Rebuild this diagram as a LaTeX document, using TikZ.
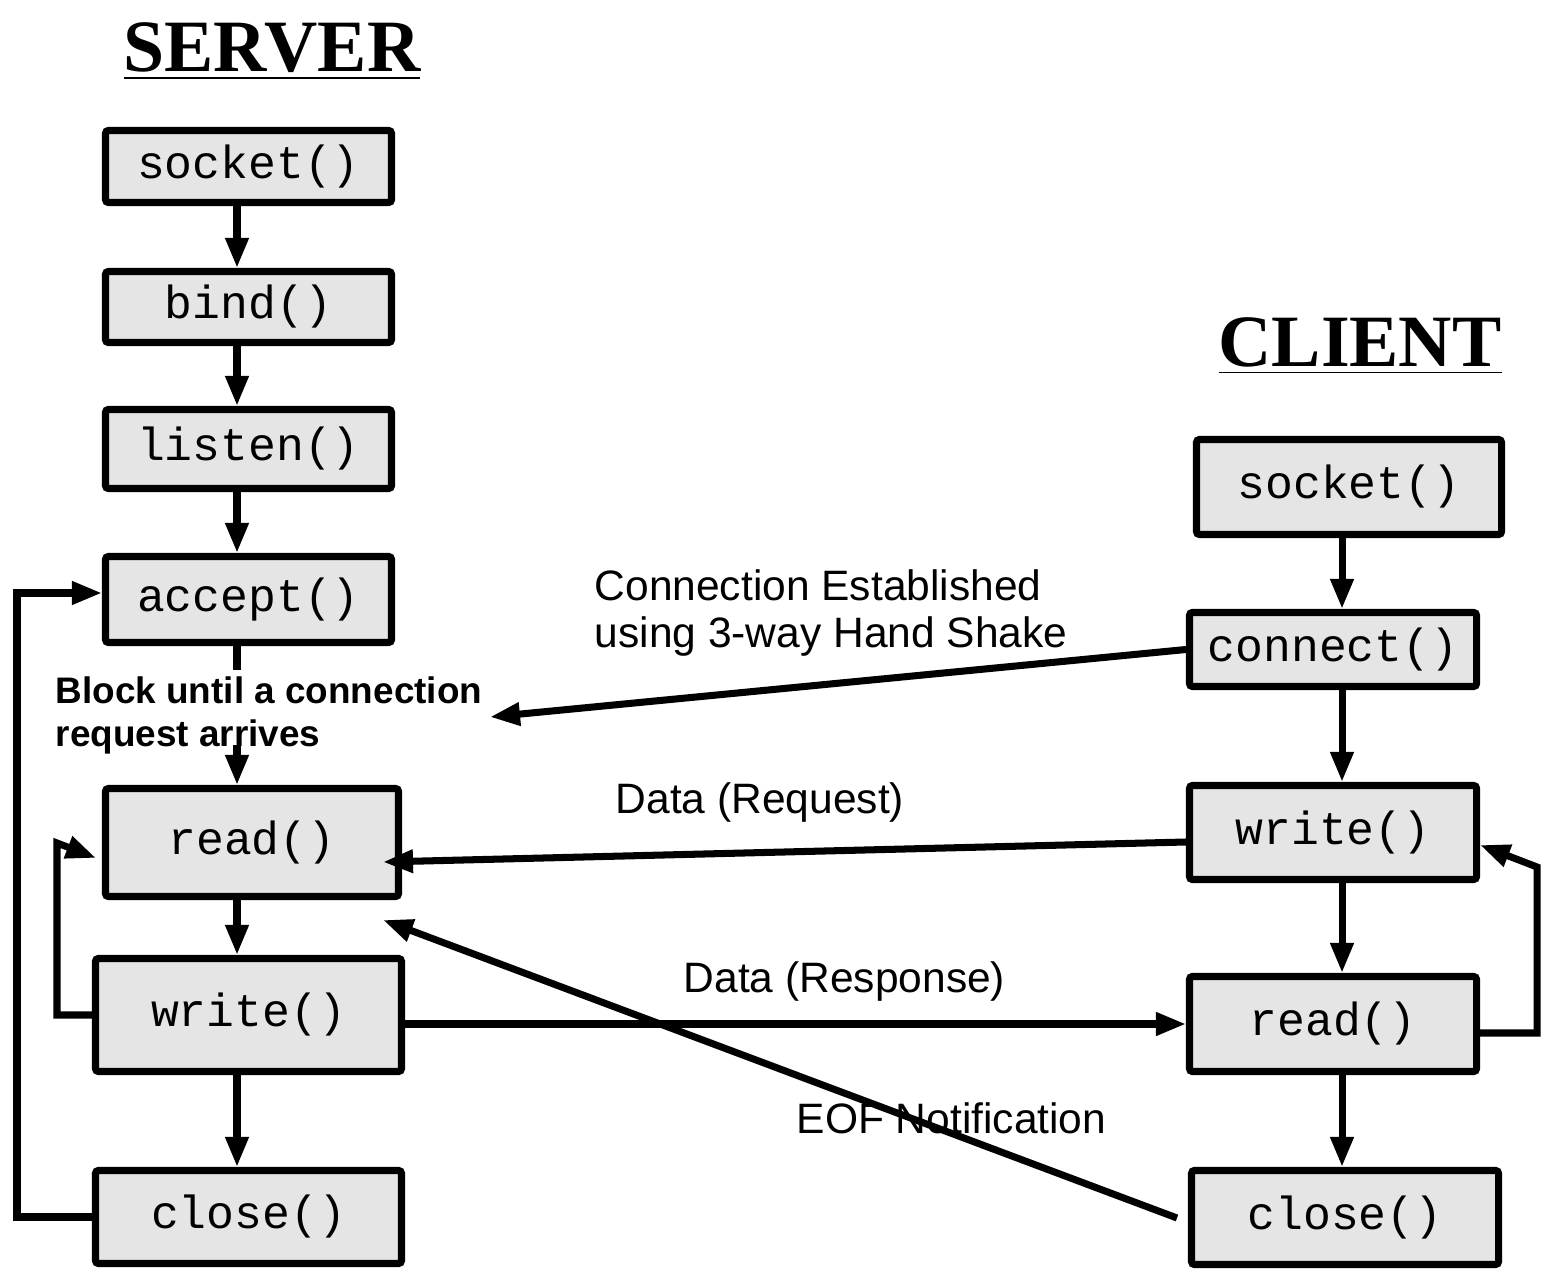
\documentclass[tikz,border=0pt]{standalone}
\usepackage{fontspec}
\setmainfont{Liberation Sans}
\setmonofont{Liberation Mono}
\newfontfamily\headfont{Liberation Serif}
\usetikzlibrary{arrows.meta}
\definecolor{boxgray}{HTML}{E5E5E5}
\tikzset{%
    fn/.style={draw=black,line width=2pt,fill=boxgray,rounded corners=0.8pt,inner sep=0pt,font=\ttfamily\fontsize{13.2}{15}\selectfont},
    arr/.style={-{Triangle[length=0.30cm,width=0.22cm]},line width=2pt}
}
\begin{document}
\begin{tikzpicture}[head/.style={anchor=base,inner sep=0pt,font=\headfont\bfseries\fontsize{21}{24}\selectfont},
    lbl/.style={anchor=west,inner sep=0pt,align=left,font=\fontsize{12.1}{13.1}\selectfont},
    blbl/.style={anchor=west,inner sep=0pt,align=left,font=\bfseries\fontsize{10.5}{12.2}\selectfont}]
        \useasboundingbox (0,0) rectangle (15.47,-12.71);
        \node[head] (tserv) at (2.72,-0.72){\underline{SERVER}};
        \node[head] (tclient) at (13.60,-3.67){\underline{CLIENT}};

        \node[fn,minimum width=2.86cm,minimum height=0.72cm] (ssock) at (2.485,-1.665){socket()};
        \node[fn,minimum width=2.86cm,minimum height=0.71cm] (sbind) at (2.485,-3.07){bind()};
        \node[fn,minimum width=2.86cm,minimum height=0.79cm] (slisten) at (2.485,-4.49){listen()};
        \node[fn,minimum width=2.86cm,minimum height=0.86cm] (saccept) at (2.485,-5.995){accept()};
        \node[fn,minimum width=2.93cm,minimum height=1.08cm] (sread) at (2.52,-8.425){read()};
        \node[fn,minimum width=3.06cm,minimum height=1.13cm] (swrite) at (2.485,-10.15){write()};
        \node[fn,minimum width=3.06cm,minimum height=0.93cm] (sclose) at (2.485,-12.17){close()};

        \node[fn,minimum width=3.05cm,minimum height=0.95cm] (csock) at (13.49,-4.87){socket()};
        \node[fn,minimum width=2.87cm,minimum height=0.74cm] (cconn) at (13.33,-6.495){connect()};
        \node[fn,minimum width=2.87cm,minimum height=0.94cm] (cwrite) at (13.33,-8.325){write()};
        \node[fn,minimum width=2.87cm,minimum height=0.95cm] (cread) at (13.33,-10.24){read()};
        \node[fn,minimum width=3.07cm,minimum height=0.94cm] (cclose) at (13.45,-12.175){close()};

        \node[lbl] (lhs) at (5.94,-6.13){Connection Established\\using 3-way Hand Shake};
        \node[blbl] (lblock) at (0.55,-7.155){Block until a connection\\request arrives};
        \node[lbl] (lreq) at (6.15,-8.03){Data (Request)};
        \node[lbl] (lresp) at (6.83,-9.82){Data (Response)};
        \node[lbl] (leof) at (7.96,-11.18){EOF Notification};

        \coordinate (sx) at (2.37,0);
        \coordinate (cx) at (13.42,0);
        \coordinate (blktop) at (2.37,-6.70);
        \coordinate (blkbot) at (2.37,-7.45);
        \coordinate (hstip) at (4.90,-7.17);
        \coordinate (reqtail) at (11.86,-8.42);
        \coordinate (reqtip) at (3.83,-8.62);
        \coordinate (eoftail) at (11.77,-12.18);
        \coordinate (eoftip) at (3.83,-9.20);
        \coordinate (oloop) at (0.17,-5.93);
        \coordinate (iloop) at (0.57,-8.43);
        \coordinate (itip) at (0.96,-8.58);
        \coordinate (cloop) at (15.37,-8.67);
        \coordinate (ctip) at (14.80,-8.45);

        \path[]
            (ssock.south -| sx) edge[arr] (sbind.north -| sx)
            (sbind.south -| sx) edge[arr] (slisten.north -| sx)
            (slisten.south -| sx) edge[arr] (saccept.north -| sx)
            (saccept.south -| sx) edge[line width=2pt] (blktop)
            (blkbot) edge[arr] (sread.north -| sx)
            (sread.south -| sx) edge[arr] (swrite.north -| sx)
            (swrite.south -| sx) edge[arr] (sclose.north -| sx)
            (csock.south -| cx) edge[arr] (cconn.north -| cx)
            (cconn.south -| cx) edge[arr] (cwrite.north -| cx)
            (cwrite.south -| cx) edge[arr] (cread.north -| cx)
            (cread.south -| cx) edge[arr] (cclose.north -| cx);

        \path[]
            (cconn.west) edge[arr] (hstip)
            (reqtail) edge[arr] (reqtip)
            (swrite.east |- cread.west) edge[arr] (cread.west)
            (eoftail) edge[arr] (eoftip);

        \draw[arr] (sclose.west) -| (oloop) -- (oloop -| saccept.west);
        \draw[arr] (swrite.west) -| (iloop) -- (itip);
        \draw[arr] ([yshift=-0.09cm]cread.east) -| (cloop) -- (ctip);
    \end{tikzpicture}
\end{document}
